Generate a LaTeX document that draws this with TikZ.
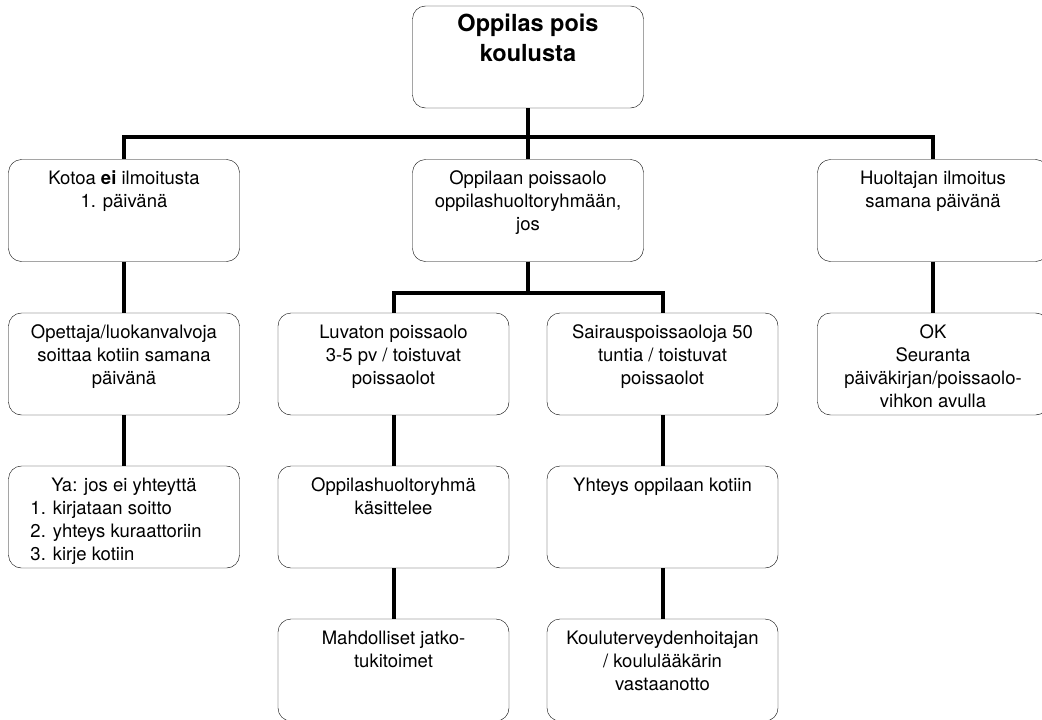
\documentclass[tikz,border=0pt]{standalone}
\usepackage{fontspec}
\setmainfont{TeX Gyre Heros}

\newcommand{\boxtext}[1]{\parbox[t][90pt][t]{225pt}{\centering\rule{0pt}{19pt}#1}}

\begin{document}
\begin{tikzpicture}
		[x=1pt,y=-1pt,
		box/.style={draw,thin,rounded corners=13pt,minimum width=231pt,
			minimum height=102pt,inner xsep=3pt,inner ysep=6pt,
			font=\fontsize{18.5}{23}\selectfont},
		titlebox/.style={box,font=\fontsize{23.5}{30}\selectfont\bfseries},
		conn/.style={-,line width=4pt}]
		\clip (0,0) rectangle (1042,720);
		\fill[white] (0,0) rectangle (1042,720);
		\node[titlebox] (top) at (528,57) {\boxtext{Oppilas pois\\koulusta}};
		%%
		\node[box] (kotoa) at (124,210.5) {\boxtext{Kotoa \textbf{ei} ilmoitusta\\1. päivänä}};
		\node[box] (jos) at (528,210.5) {\boxtext{Oppilaan poissaolo\\oppilashuoltoryhmään,\\jos}};
		\node[box] (huoltaja) at (933,210.5) {\boxtext{Huoltajan ilmoitus\\samana päivänä}};
		%%
		\node[box] (opettaja) at (124,364) {\boxtext{Opettaja/luokanvalvoja\\soittaa kotiin samana\\päivänä}};
		\node[box] (ya) at (124,517) {\parbox[t][90pt][t]{225pt}{\centering\rule{0pt}{19pt}Ya: jos ei yhteyttä\par
				\raggedright\leftskip=19pt 1. kirjataan soitto\\2. yhteys kuraattoriin\\3. kirje kotiin}};
		%%
		\node[box] (luvaton) at (393.5,364) {\boxtext{Luvaton poissaolo\\3-5 pv / toistuvat\\poissaolot}};
		\node[box] (kasittelee) at (393.5,517) {\boxtext{Oppilashuoltoryhmä\\käsittelee}};
		\node[box] (jatko) at (393.5,670) {\boxtext{Mahdolliset jatko-\\tukitoimet}};
		%%
		\node[box] (sairaus) at (662.5,364) {\boxtext{Sairauspoissaoloja 50\\tuntia / toistuvat\\poissaolot}};
		\node[box] (yhteys) at (662.5,517) {\boxtext{Yhteys oppilaan kotiin}};
		\node[box] (vastaanotto) at (662.5,670) {\boxtext{Kouluterveydenhoitajan\\/ koululääkärin\\vastaanotto}};
		%%
		\node[box] (ok) at (933,364) {\boxtext{OK\\Seuranta\\päiväkirjan/poissaolo-\\vihkon avulla}};
		%%
		\draw[conn] (top.south) -- ++(0,29) -| (kotoa.north);
		\draw[conn] (top.south) -- (jos.north);
		\draw[conn] (top.south) -- ++(0,29) -| (huoltaja.north);
		\draw[conn] (jos.south) -- ++(0,31) -| (luvaton.north);
		\draw[conn] (jos.south) -- ++(0,31) -| (sairaus.north);
		\path
		\foreach \startNode/\endNode in {kotoa/opettaja,opettaja/ya,
			luvaton/kasittelee,kasittelee/jatko,sairaus/yhteys,
			yhteys/vastaanotto,huoltaja/ok}
		{
			(\startNode) edge[conn] (\endNode)
		};
		\end{tikzpicture}
\end{document}
